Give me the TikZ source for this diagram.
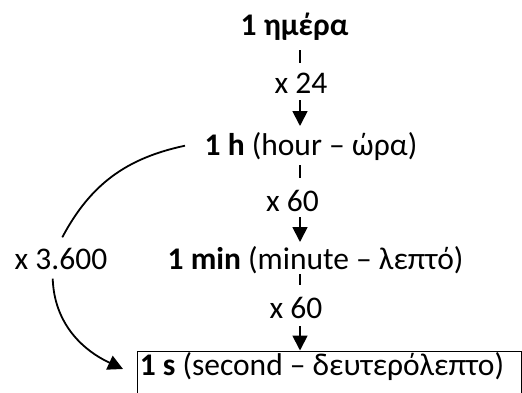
\documentclass[tikz,border=0pt]{standalone}
\usepackage{fontspec}
\setmainfont{Carlito}
\usetikzlibrary{arrows.meta,calc}
\begin{document}
\begin{tikzpicture}[x=1pt,y=1pt,
  lab/.style={font=\fontsize{31.5}{36}\selectfont, inner sep=0pt, anchor=base west},
  tick/.style={line width=2pt},
  arr/.style={line width=1.8pt, -{Triangle[width=15pt,length=15pt]}},
  curv/.style={line width=1.8pt}]
\useasboundingbox (0,0) rectangle (522,392);
\coordinate (axis) at (300,0);
\node[lab] (top) at (240.5,356) {\textbf{1 ημέρα}};
\node[lab] (x24) at (274.5,299) {x 24};
\node[lab] (h) at (204.5,237) {\textbf{1 h} (hour – ώρα)};
\node[lab] (x60a) at (266,180.3) {x 60};
\node[lab] (min) at (167.5,123) {\textbf{1 min} (minute – λεπτό)};
\node[lab] (x60b) at (269.5,74) {x 60};
\node[lab, anchor=north west, draw, line width=1.5pt, inner xsep=2.5pt, inner ysep=0pt,
      text height=24.5pt, text depth=19pt]
      (s) at (136.5,41.5) {\makebox[379pt][l]{\textbf{1 s} (second – δευτερόλεπτο)}};
\node[lab] (lbl) at (14.5,123) {x 3.600};
% vertical connectors
\draw[tick] ([yshift=-14pt]top.base -| axis) -- ([yshift=30pt]x24.base -| axis);
\draw[arr] ([yshift=-7pt]x24.base -| axis) -- ([yshift=29pt]h.base -| axis);
\draw[tick] ([yshift=-10pt]h.base -| axis) -- ([yshift=33.7pt]x60a.base -| axis);
\draw[arr] ([yshift=-5.3pt]x60a.base -| axis) -- ([yshift=27pt]min.base -| axis);
\draw[tick] ([yshift=-5pt]min.base -| axis) -- ([yshift=33pt]x60b.base -| axis);
\draw[arr] ([yshift=-8pt]x60b.base -| axis) -- (s.north -| axis);
% curved connector
\draw[curv] ($(h.base west)+(-19.5,9.3)$) to[out=192,in=62] ($(lbl.base west)+(47.8,31.7)$);
\draw[arr] ($(lbl.base west)+(38.2,-9.7)$) to[out=-88,in=155] ($(s.west)+(-13.5,4)$);
\end{tikzpicture}
\end{document}
